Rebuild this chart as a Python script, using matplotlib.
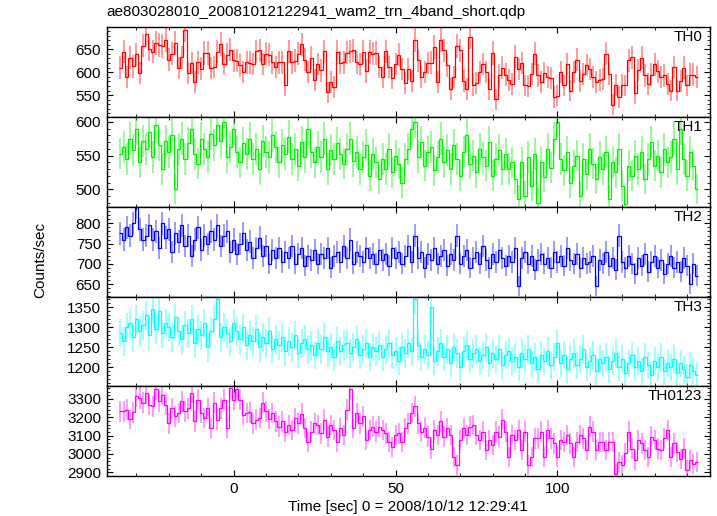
import numpy as np
import matplotlib
matplotlib.use('Agg')
import matplotlib.pyplot as plt
from matplotlib.ticker import MultipleLocator

# 1 s bins, centres from -35 to 143 sec
BIN_SEC = 1.0
times = np.arange(-35, 144) * BIN_SEC

th0 = [610, 645, 590, 632, 613, 639, 598, 658, 684, 651,
       645, 664, 659, 657, 671, 627, 640, 664, 609, 633,
       693, 598, 620, 578, 622, 608, 642, 642, 609, 611,
       645, 662, 618, 638, 649, 626, 625, 615, 600, 622,
       621, 618, 646, 648, 618, 640, 638, 622, 611, 622,
       622, 573, 646, 622, 625, 640, 661, 627, 600, 632,
       582, 618, 604, 646, 556, 579, 568, 644, 621, 622,
       643, 646, 648, 622, 618, 644, 602, 644, 640, 642,
       611, 589, 646, 611, 588, 618, 638, 607, 576, 607,
       580, 671, 626, 589, 600, 620, 621, 655, 578, 670,
       648, 615, 563, 589, 657, 648, 580, 563, 676, 573,
       576, 600, 618, 600, 563, 642, 541, 593, 610, 595,
       583, 574, 634, 607, 620, 571, 569, 596, 640, 593,
       578, 598, 589, 588, 546, 549, 600, 571, 618, 560,
       600, 627, 580, 596, 616, 607, 589, 578, 582, 585,
       640, 596, 529, 573, 546, 573, 571, 626, 633, 554,
       605, 632, 593, 574, 595, 617, 602, 589, 593, 574,
       560, 611, 560, 580, 610, 571, 595, 595, 590]

th1 = [553, 562, 545, 575, 558, 590, 540, 572, 560, 585,
       548, 595, 565, 530, 572, 555, 580, 500, 560, 575,
       545, 568, 590, 552, 538, 575, 560, 548, 582, 565,
       595, 572, 600, 548, 562, 590, 555, 540, 568, 552,
       575, 545, 560, 530, 572, 555, 548, 580, 562, 540,
       565, 552, 578, 545, 560, 535, 570, 548, 590, 555,
       540, 562, 548, 575, 530, 558, 545, 568, 552, 538,
       560, 575, 542, 555, 530, 548, 565, 520, 552, 540,
       515, 545, 530, 560, 525, 550, 538, 510, 545, 560,
       590, 600, 548, 570, 535, 555, 562, 528, 548, 575,
       540, 558, 530, 565, 545, 520, 555, 580, 538, 550,
       525, 560, 548, 535, 570, 520, 545, 558, 530, 552,
       530, 540, 515, 485, 540, 490, 548, 505, 552, 480,
       540, 518, 560, 532, 575, 600, 545, 528, 555, 510,
       535, 550, 490, 545, 522, 560, 538, 515, 548, 530,
       555, 485, 540, 525, 560, 505, 478, 535, 520, 550,
       530, 555, 515, 545, 570, 535, 550, 525, 560, 540,
       548, 575, 530, 590, 545, 520, 555, 535, 500]

th2 = [775, 760, 790, 770, 800, 840, 785, 760, 770, 795,
       760, 780, 740, 800, 765, 785, 730, 775, 755, 795,
       745, 770, 720, 760, 790, 735, 770, 750, 780, 760,
       795, 745, 770, 780, 730, 760, 725, 750, 775, 735,
       755, 715, 740, 765, 720, 745, 700, 735, 715, 740,
       705, 730, 715, 745, 700, 725, 740, 695, 720, 710,
       735, 700, 725, 715, 740, 690, 720, 730, 705, 745,
       715, 760, 700, 730, 720, 705, 740, 715, 725, 700,
       735, 710, 725, 695, 740, 715, 730, 700, 720, 745,
       705, 770, 715, 730, 690, 725, 710, 740, 700, 720,
       735, 695, 725, 710, 770, 700, 720, 735, 690, 715,
       730, 700, 745, 710, 690, 725, 705, 735, 715, 695,
       720, 705, 740, 645, 715, 730, 700, 720, 685, 710,
       725, 700, 715, 690, 730, 705, 720, 695, 740, 710,
       700, 725, 690, 715, 700, 705, 720, 645, 710, 700,
       730, 695, 715, 685, 770, 705, 690, 720, 700, 675,
       715, 695, 725, 680, 705, 720, 690, 710, 675, 700,
       720, 690, 705, 680, 715, 695, 650, 700, 670]

th3 = [1285, 1265, 1300, 1310, 1275, 1320, 1290, 1305, 1330, 1280,
       1345, 1295, 1340, 1285, 1310, 1300, 1275, 1325, 1290, 1270,
       1305, 1285, 1320, 1260, 1295, 1280, 1310, 1250, 1290, 1320,
       1370, 1275, 1300, 1285, 1265, 1310, 1290, 1270, 1300, 1255,
       1280, 1265, 1295, 1250, 1275, 1260, 1290, 1245, 1270, 1255,
       1275, 1240, 1265, 1250, 1280, 1235, 1260, 1270, 1245, 1255,
       1230, 1260, 1245, 1275, 1240, 1250, 1225, 1265, 1240, 1255,
       1260, 1235, 1250, 1270, 1230, 1245, 1260, 1225, 1250, 1240,
       1255, 1225, 1245, 1260, 1230, 1240, 1215, 1250, 1235, 1260,
       1240, 1370, 1255, 1225, 1245, 1230, 1350, 1215, 1240, 1260,
       1225, 1245, 1210, 1250, 1235, 1200, 1240, 1255, 1220, 1235,
       1245, 1215, 1230, 1250, 1210, 1235, 1220, 1245, 1205, 1230,
       1240, 1215, 1225, 1200, 1235, 1220, 1245, 1210, 1225, 1195,
       1230, 1215, 1240, 1205, 1225, 1260, 1210, 1230, 1195, 1220,
       1235, 1205, 1220, 1245, 1200, 1215, 1230, 1190, 1220, 1210,
       1225, 1195, 1215, 1235, 1200, 1220, 1185, 1210, 1230, 1200,
       1215, 1190, 1225, 1205, 1180, 1215, 1200, 1225, 1190, 1210,
       1200, 1220, 1185, 1210, 1195, 1175, 1205, 1190, 1180]

th0123 = [3232, 3232, 3241, 3190, 3226, 3315, 3305, 3278, 3330, 3269,
          3259, 3352, 3287, 3324, 3269, 3167, 3250, 3204, 3223, 3287,
          3232, 3250, 3333, 3177, 3296, 3223, 3195, 3250, 3140, 3278,
          3186, 3250, 3296, 3140, 3361, 3296, 3352, 3296, 3213, 3223,
          3226, 3167, 3186, 3195, 3278, 3232, 3190, 3223, 3177, 3149,
          3177, 3121, 3158, 3130, 3195, 3167, 3219, 3140, 3066, 3121,
          3167, 3158, 3112, 3186, 3094, 3158, 3130, 3066, 3140, 3103,
          3241, 3352, 3140, 3223, 3167, 3204, 3075, 3130, 3149, 3121,
          3149, 3130, 3112, 3066, 3038, 3103, 3112, 3066, 3140, 3167,
          3223, 3259, 3167, 3121, 3140, 3094, 3029, 3130, 3103, 3177,
          3094, 3140, 3103, 2983, 2937, 3075, 3140, 3103, 3149, 3158,
          3103, 3075, 3121, 3020, 3075, 3048, 3121, 3094, 3186, 3121,
          2983, 3103, 3075, 3130, 3020, 3121, 2937, 2983, 3084, 3084,
          3121, 2983, 3130, 3084, 3057, 2983, 3075, 3066, 3103, 3057,
          2983, 3066, 3103, 3084, 3020, 3149, 3121, 3020, 3066, 3066,
          3020, 3066, 3066, 2891, 2955, 2937, 3002, 3121, 3029, 2965,
          3075, 3057, 3020, 2983, 3094, 3075, 3029, 3020, 3084, 3130,
          2983, 3057, 3011, 2974, 3029, 2910, 2965, 2946, 2955]

series = [th0, th1, th2, th3, th0123]
band_names = ['TH0', 'TH1', 'TH2', 'TH3', 'TH0123']
colors = ['#ff0000', '#00ee00', '#0000ff', '#00ffff', '#ff00ff']

# axis ranges and tick steps for each panel (qdp autoscale)
y_ranges = [(502, 698), (474, 607), (619, 841), (1153, 1377), (2879, 3369)]
y_steps = [(50, 10), (50, 10), (50, 10), (50, 10), (100, 20)]

plt.rcParams.update({
    'font.family': ['Liberation Sans', 'DejaVu Sans'],
    'font.size': 11,
    'xtick.direction': 'in',
    'ytick.direction': 'in',
    'xtick.top': True,
    'ytick.right': True,
    'xtick.major.size': 4.3,
    'ytick.major.size': 4.3,
    'xtick.minor.size': 2.4,
    'ytick.minor.size': 2.4,
    'axes.linewidth': 1.0,
})

fig, axes = plt.subplots(5, 1, sharex=True, figsize=(7.17, 5.16), dpi=100,
                         gridspec_kw={'hspace': 0})
fig.subplots_adjust(left=0.1488, right=0.9902, top=0.947, bottom=0.0775)

edges = np.append(times - BIN_SEC / 2, times[-1] + BIN_SEC / 2)

for ax, rate, name, color, ylim, (major, minor) in zip(
        axes, series, band_names, colors, y_ranges, y_steps):
    rate = np.array(rate, dtype=float)
    err = np.sqrt(rate * BIN_SEC) / BIN_SEC  # poisson error
    ax.errorbar(times, rate, yerr=err, fmt='none', ecolor=color,
                elinewidth=1.1, alpha=0.5)
    ax.stairs(rate, edges, baseline=None, color=color, lw=0.9)

    ax.set_ylim(*ylim)
    ax.yaxis.set_major_locator(MultipleLocator(major))
    ax.yaxis.set_minor_locator(MultipleLocator(minor))
    ax.tick_params(which='both', top=True, right=True, pad=4)
    ax.text(0.987, 0.965, name, transform=ax.transAxes,
            ha='right', va='top', fontsize=11)

axes[-1].set_xlim(-39.2, 147.1)
axes[-1].xaxis.set_major_locator(MultipleLocator(50))
axes[-1].xaxis.set_minor_locator(MultipleLocator(10))

fig.text(0.149, 1 - 12 / 516, 'ae803028010_20081012122941_wam2_trn_4band_short.qdp',
         ha='left', va='center', fontsize=11)
fig.text(40 / 717, 1 - 260 / 516, 'Counts/sec', rotation=90,
         ha='center', va='center', fontsize=11)
fig.text(0.5695, 1 - 507 / 516, 'Time [sec] 0 = 2008/10/12 12:29:41',
         ha='center', va='center', fontsize=11)

fig.savefig('out.png', dpi=100)
plt.close()
